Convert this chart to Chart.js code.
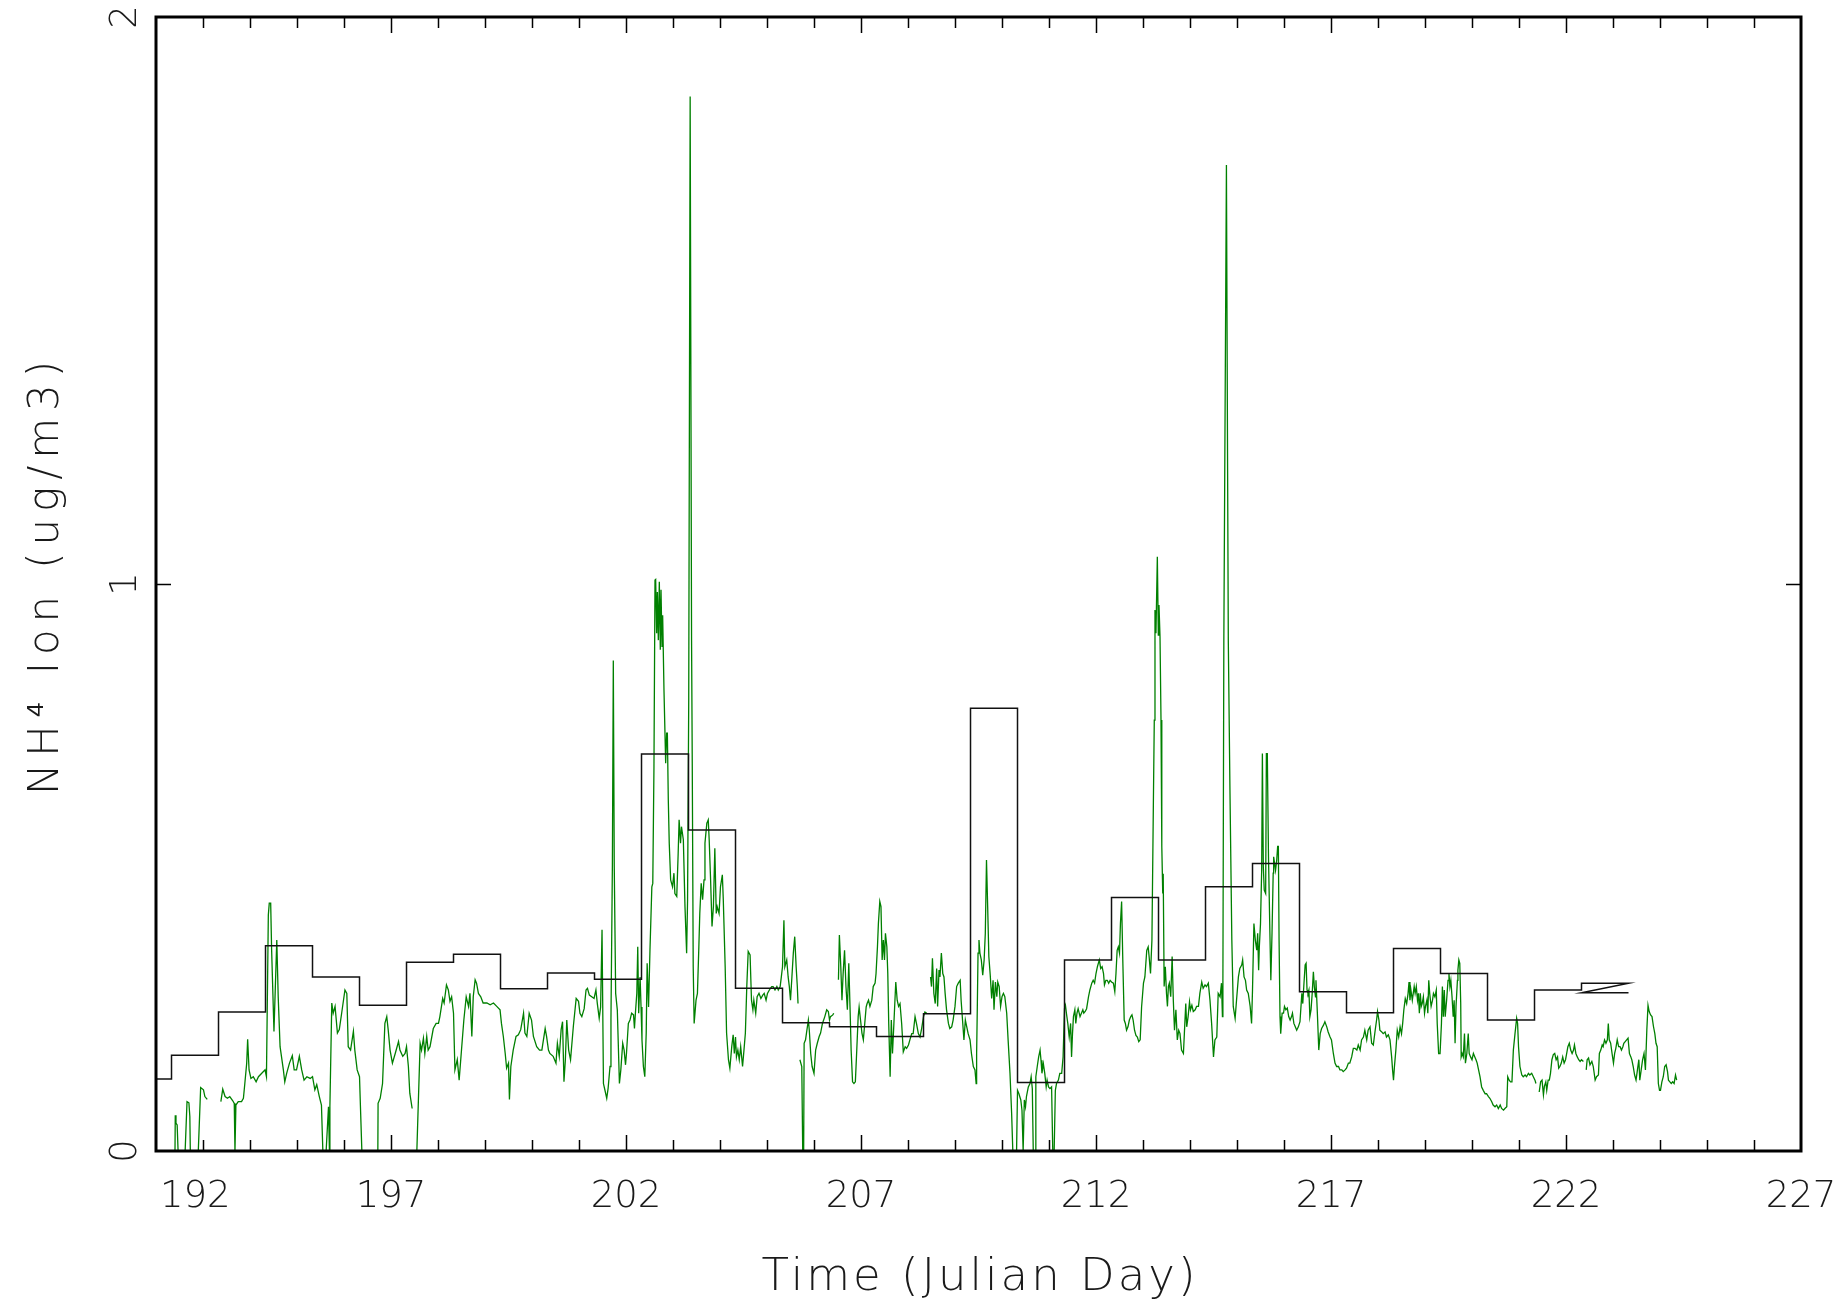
<!DOCTYPE html>
<html>
<head>
<meta charset="utf-8">
<script src="https://cdn.jsdelivr.net/npm/chart.js@4.4.0/dist/chart.umd.min.js"></script>
<style>
  html, body { margin: 0; padding: 0; background: #fff; }
  canvas { display: block; }
</style>
</head>
<body>
<canvas id="chart" width="1842" height="1299"></canvas>
<script>
// Axis labels
const xTickLabels = [192, 197, 202, 207, 212, 217, 222, 227]
const yTickLabels = [0, 1, 2]
const xTitle = 'Time (Julian Day)'
const yTitle = 'NH\u2074 Ion (ug/m3)'

// Daily filter samples (black steps): start day, end day, concentration
const stepStart = [192.00, 192.33, 193.33, 194.33, 195.33, 196.33, 197.33, 198.33, 199.33, 200.33,
  201.33, 202.33, 203.33, 204.33, 205.33, 206.33, 207.33, 208.33, 209.33, 210.33,
  211.33, 212.33, 213.33, 214.33, 215.33, 216.33, 217.33, 218.33, 219.33, 220.33,
  221.33, 222.33, 222.33]
const stepEnd = [192.33, 193.33, 194.33, 195.33, 196.33, 197.33, 198.33, 199.33, 200.33, 201.33,
  202.33, 203.33, 204.33, 205.33, 206.33, 207.33, 208.33, 209.33, 210.33, 211.33,
  212.33, 213.33, 214.33, 215.33, 216.33, 217.33, 218.33, 219.33, 220.33, 221.33,
  222.33, 223.33, 223.33]
const stepLevel = [0.127, 0.169, 0.245, 0.362, 0.307, 0.257, 0.333, 0.347, 0.286, 0.314,
  0.303, 0.700, 0.566, 0.287, 0.226, 0.219, 0.202, 0.242, 0.781, 0.121,
  0.337, 0.447, 0.337, 0.466, 0.507, 0.281, 0.244, 0.357, 0.313, 0.231,
  0.284, 0.296, 0.279]

// Continuous NH4 record (green): [day, value], null value = data gap
const nh4Series = [
  [192.404, 0], [192.41, 0.063], [192.425, 0.049], [192.45, 0.046], [192.47, 0], [192.62, 0], [192.66, 0.087], [192.70, 0.085], [192.72, 0.061], [192.73, 0], [192.90, 0], [192.95, 0.112], [193.01, 0.108], [193.04, 0.096], [193.09, 0.091], [193.2, null],
  [193.38, 0.087], [193.42, 0.109], [193.47, 0.096], [193.52, 0.093], [193.57, 0.096], [193.63, 0.089], [193.665, 0.084], [193.68, 0], [193.70, 0.081], [193.75, 0.087], [193.82, 0.087], [193.86, 0.093], [193.89, 0.119], [193.93, 0.155], [193.95, 0.197], [193.98, 0.143], [194.02, 0.128], [194.07, 0.131], [194.13, 0.122], [194.18, 0.131], [194.25, 0.137], [194.32, 0.143], [194.35, 0.131], [194.39, 0.416], [194.41, 0.437], [194.44, 0.437], [194.46, 0.355], [194.51, 0.211], [194.57, 0.372], [194.60, 0.272], [194.64, 0.184], [194.71, 0.143], [194.74, 0.122], [194.78, 0.137], [194.84, 0.155], [194.90, 0.168], [194.94, 0.143], [194.99, 0.143], [195.05, 0.167], [195.10, 0.143], [195.15, 0.125], [195.21, 0.131], [195.28, 0.128], [195.33, 0.131], [195.38, 0.108], [195.42, 0.117], [195.475, 0.096], [195.52, 0.081], [195.55, 0], [195.62, 0], [195.67, 0.078], [195.69, 0], [195.70, 0.078], [195.74, 0.261], [195.77, 0.243], [195.81, 0.255], [195.86, 0.208], [195.90, 0.214], [195.95, 0.243], [196.02, 0.284], [196.06, 0.278], [196.09, 0.184], [196.14, 0.178], [196.20, 0.211], [196.23, 0.178], [196.28, 0.143], [196.33, 0.131], [196.35, 0.078], [196.38, 0], [196.72, 0], [196.725, 0.084], [196.77, 0.093], [196.82, 0.119], [196.87, 0.225], [196.91, 0.237], [196.94, 0.214], [196.98, 0.178], [197.03, 0.155], [197.09, 0.172], [197.16, 0.193], [197.19, 0.178], [197.25, 0.167], [197.30, 0.172], [197.33, 0.184], [197.37, 0.149], [197.40, 0.102], [197.45, 0.075], [197.50, null],
  [197.55, 0], [197.62, 0.190], [197.65, 0.178], [197.69, 0.199], [197.72, 0.172], [197.76, 0.202], [197.79, 0.178], [197.83, 0.184], [197.90, 0.216], [197.96, 0.225], [198.01, 0.225], [198.04, 0.237], [198.10, 0.269], [198.13, 0.261], [198.18, 0.293], [198.22, 0.284], [198.255, 0.264], [198.29, 0.272], [198.33, 0.243], [198.36, 0.143], [198.41, 0.161], [198.45, 0.125], [198.50, 0.178], [198.55, 0.231], [198.60, 0.272], [198.65, 0.255], [198.68, 0.278], [198.72, 0.202], [198.75, 0.272], [198.79, 0.302], [198.82, 0.296], [198.86, 0.278], [198.91, 0.272], [198.96, 0.261], [199.04, 0.261], [199.11, 0.258], [199.18, 0.261], [199.25, 0.255], [199.32, 0.249], [199.35, 0.225], [199.39, 0.202], [199.43, 0.172], [199.46, 0.146], [199.50, 0.155], [199.52, 0.091], [199.55, 0.149], [199.60, 0.178], [199.66, 0.202], [199.71, 0.205], [199.76, 0.214], [199.82, 0.243], [199.85, 0.208], [199.89, 0.202], [199.94, 0.243], [199.99, 0.231], [200.03, 0.202], [200.10, 0.184], [200.16, 0.178], [200.21, 0.178], [200.28, 0.216], [200.31, 0.202], [200.35, 0.178], [200.38, 0.172], [200.45, 0.167], [200.51, 0.155], [200.54, 0.190], [200.58, 0.167], [200.62, 0.214], [200.65, 0.228], [200.68, 0.122], [200.71, 0.161], [200.74, 0.231], [200.78, 0.178], [200.82, 0.161], [200.88, 0.220], [200.94, 0.269], [200.99, 0.264],
  [201.02, 0.243], [201.06, 0.237], [201.11, 0.251], [201.15, 0.284], [201.18, 0.287], [201.22, 0.275], [201.27, 0.272], [201.32, 0.269], [201.36, 0.284], [201.39, 0.260], [201.43, 0.234], [201.46, 0.254], [201.49, 0.390], [201.52, 0.119], [201.55, 0.108], [201.59, 0.093], [201.62, 0.111], [201.66, 0.149], [201.68, 0.231], [201.71, 0.502], [201.73, 0.865], [201.75, 0.502], [201.78, 0.278], [201.815, 0.249], [201.86, 0.119], [201.89, 0.143], [201.93, 0.190], [201.96, 0.178], [201.99, 0.152], [202.01, 0.172], [202.05, 0.225], [202.085, 0.231], [202.12, 0.243], [202.16, 0.240], [202.18, 0.216], [202.20, 0.243], [202.23, 0.278], [202.25, 0.360], [202.27, 0.243], [202.30, 0.307], [202.32, 0.254], [202.34, 0.196], [202.37, 0.149], [202.40, 0.131], [202.43, 0.208], [202.45, 0.331], [202.48, 0.254], [202.51, 0.354], [202.55, 0.466], [202.57, 0.472], [202.595, 0.678], [202.617, 1.007], [202.631, 1.008], [202.652, 0.913], [202.667, 0.986], [202.688, 0.901], [202.709, 1.004], [202.730, 0.884], [202.745, 0.990], [202.766, 0.890], [202.780, 0.945], [202.808, 0.813], [202.844, 0.684], [202.865, 0.737], [202.88, 0.737], [202.90, 0.619],
  [202.92, 0.543], [202.95, 0.478], [202.99, 0.466], [203.02, 0.490], [203.04, 0.454], [203.08, 0.449], [203.11, 0.525], [203.13, 0.584], [203.16, 0.543], [203.18, 0.572], [203.22, 0.549], [203.255, 0.431], [203.29, 0.349], [203.31, 0.443], [203.335, 0.80], [203.365, 1.86], [203.395, 0.90], [203.41, 0.678], [203.43, 0.325], [203.45, 0.225], [203.49, 0.266], [203.52, 0.278], [203.55, 0.360], [203.57, 0.419], [203.60, 0.472], [203.63, 0.443], [203.66, 0.478], [203.68, 0.543], [203.72, 0.578], [203.75, 0.584], [203.77, 0.549], [203.80, 0.478], [203.83, 0.396], [203.86, 0.431], [203.89, 0.534], [203.92, 0.419], [203.94, 0.431], [203.98, 0.419], [204.01, 0.466], [204.05, 0.487], [204.07, 0.443], [204.11, 0.325], [204.14, 0.208], [204.18, 0.161], [204.21, 0.146], [204.25, 0.184], [204.28, 0.205], [204.305, 0.172], [204.33, 0.201], [204.35, 0.166], [204.38, 0.178], [204.41, 0.161], [204.44, 0.184], [204.48, 0.149], [204.51, 0.178], [204.54, 0.208], [204.57, 0.290], [204.60, 0.352], [204.64, 0.346], [204.67, 0.266], [204.70, 0.249], [204.72, 0.266], [204.76, 0.243], [204.79, 0.272], [204.83, 0.278], [204.87, 0.269], [204.91, 0.275], [204.94, 0.278], [204.98, 0.266], [205.01, 0.278], [205.05, 0.284], [205.10, 0.290], [205.13, 0.290], [205.17, 0.284], [205.21, 0.290], [205.24, 0.284], [205.28, 0.290], [205.305, 0.307], [205.33, 0.325], [205.36, 0.407], [205.38, 0.325], [205.42, 0.337], [205.45, 0.307], [205.475, 0.290], [205.50, 0.266], [205.53, 0.307], [205.56, 0.349], [205.59, 0.378], [205.62, 0.325], [205.645, 0.290], [205.66, 0.260], [205.68, null],
  [205.70, 0.161], [205.74, 0.149], [205.76, 0], [205.78, 0], [205.79, 0.190], [205.82, 0.196], [205.84, 0.208], [205.88, 0.231], [205.90, 0.213], [205.93, 0.172], [205.96, 0.149], [206.00, 0.137], [206.035, 0.178], [206.07, 0.190], [206.11, 0.202], [206.14, 0.208], [206.18, 0.225], [206.23, 0.237], [206.27, 0.249], [206.305, 0.246], [206.33, 0.231], [206.35, 0.237], [206.40, 0.240], [206.42, 0.243], [206.47, null],
  [206.52, 0.302], [206.54, 0.381], [206.57, 0.325], [206.595, 0.266], [206.62, 0.313], [206.65, 0.354], [206.68, 0.290], [206.71, 0.249], [206.74, 0.331], [206.77, 0.243], [206.79, 0.178], [206.82, 0.122], [206.85, 0.119], [206.88, 0.122], [206.91, 0.178], [206.94, 0.237], [206.96, 0.254], [206.99, 0.231], [207.02, 0.208], [207.05, 0.196], [207.08, 0.225], [207.11, 0.254], [207.13, 0.260], [207.16, 0.266],
  [207.19, 0.255], [207.23, 0.266], [207.26, 0.290], [207.30, 0.296], [207.32, 0.313], [207.35, 0.360], [207.37, 0.401], [207.40, 0.440], [207.425, 0.431], [207.45, 0.337], [207.475, 0.372], [207.50, 0.337], [207.52, 0.384], [207.55, 0.360], [207.57, 0.313], [207.59, 0.225], [207.62, 0.131], [207.645, 0.231], [207.67, 0.172], [207.70, 0.225], [207.74, 0.298], [207.77, 0.266], [207.80, 0.255], [207.83, 0.260], [207.865, 0.225], [207.90, 0.175], [207.94, 0.184], [207.97, 0.181], [208.01, 0.187], [208.04, 0.196], [208.08, 0.207], [208.11, 0.207], [208.15, 0.237], [208.18, 0.225], [208.22, 0.207], [208.255, 0.201], [208.29, 0.216], [208.33, 0.237], [208.36, 0.245], [208.40, 0.243], [208.44, null],
  [208.48, 0.307], [208.50, 0.290], [208.52, 0.340], [208.55, 0.278], [208.58, 0.260], [208.61, 0.322], [208.63, 0.255], [208.66, 0.319], [208.68, 0.307], [208.71, 0.349], [208.74, 0.313], [208.765, 0.307], [208.79, 0.278], [208.82, 0.249], [208.86, 0.225], [208.89, 0.216], [208.93, 0.219], [208.96, 0.231], [209.00, 0.255], [209.035, 0.290], [209.07, 0.296], [209.11, 0.301], [209.13, 0.266], [209.16, 0.231], [209.19, 0.196], [209.22, 0.231], [209.25, 0.219], [209.28, 0.207], [209.32, 0.196], [209.35, 0.172], [209.39, 0.149], [209.425, 0.143], [209.45, 0.119], [209.46, 0.172], [209.475, 0.255], [209.49, 0.349], [209.51, 0.372], [209.53, 0.349], [209.56, 0.337], [209.59, 0.310], [209.62, 0.337], [209.645, 0.384], [209.67, 0.513], [209.695, 0.431], [209.72, 0.343], [209.75, 0.310], [209.78, 0.269], [209.81, 0.301], [209.83, 0.249], [209.86, 0.298], [209.89, 0.272], [209.91, 0.298], [209.94, 0.290], [209.97, 0.255], [210.00, 0.272], [210.03, 0.278], [210.06, 0.272], [210.10, 0.243], [210.13, 0.196], [210.17, 0.137], [210.205, 0.066], [210.23, 0], [210.31, 0], [210.33, 0.107], [210.36, 0.101], [210.40, 0.090], [210.425, 0.072], [210.45, 0], [210.475, 0.090], [210.50, 0.078], [210.52, 0.096], [210.56, 0.113], [210.595, 0.119], [210.62, 0.131], [210.645, 0.110], [210.665, 0], [210.71, 0], [210.72, 0.131], [210.75, 0.149], [210.78, 0.166], [210.81, 0.178], [210.83, 0.160], [210.85, 0.137], [210.88, 0.154], [210.91, 0.137], [210.94, 0.113], [210.96, 0.125], [210.99, 0.113], [211.02, 0.110], [211.055, 0.113], [211.08, 0], [211.11, 0], [211.135, 0.107], [211.16, 0.119], [211.20, 0.125], [211.23, 0.137], [211.27, 0.137], [211.30, 0.166], [211.33, 0.251], [211.35, 0.257], [211.375, 0.240], [211.40, 0.225], [211.43, 0.201], [211.46, 0.225], [211.48, 0.166], [211.50, 0.207], [211.52, 0.237], [211.55, 0.249], [211.57, 0.225], [211.595, 0.243], [211.62, 0.251], [211.66, 0.237], [211.69, 0.243], [211.72, 0.249], [211.74, 0.243], [211.77, 0.246], [211.80, 0.251], [211.84, 0.272], [211.87, 0.284], [211.91, 0.296], [211.94, 0.301], [211.97, 0.296], [212.00, 0.313], [212.03, 0.325], [212.07, 0.337], [212.10, 0.322], [212.13, 0.325], [212.16, 0.313], [212.18, 0.293], [212.21, 0.301], [212.24, 0.301], [212.27, 0.296], [212.30, 0.301], [212.33, 0.298], [212.37, 0.296], [212.40, 0.281], [212.425, 0.313], [212.45, 0.354], [212.475, 0.360], [212.50, 0.349], [212.52, 0.401], [212.545, 0.440], [212.57, 0.337], [212.60, 0.231], [212.625, 0.225], [212.65, 0.213], [212.68, 0.219], [212.71, 0.231], [212.74, 0.237], [212.765, 0.240], [212.79, 0.231], [212.82, 0.213], [212.85, 0.204], [212.88, 0.201], [212.91, 0.193], [212.94, 0.196], [212.97, 0.254], [213.01, 0.296], [213.04, 0.307], [213.08, 0.354], [213.11, 0.360], [213.13, 0.343], [213.16, 0.313], [213.19, 0.372], [213.22, 0.607], [213.24, 0.760], [213.255, 0.954], [213.276, 0.913], [213.305, 1.048], [213.326, 0.910], [213.340, 0.963], [213.362, 0.907], [213.383, 0.760], [213.40, 0.537], [213.42, 0.454], [213.43, 0.489], [213.45, 0.290], [213.475, 0.325], [213.50, 0.278], [213.52, 0.255], [213.54, 0.290], [213.56, 0.296], [213.59, 0.272], [213.62, 0.343], [213.645, 0.266], [213.67, 0.213], [213.70, 0.249], [213.73, 0.196], [213.76, 0.213], [213.787, 0.207],
  [213.82, 0.178], [213.86, 0.172], [213.88, 0.207], [213.91, 0.260], [213.93, 0.219], [213.96, 0.237], [213.99, 0.263], [214.01, 0.249], [214.04, 0.257], [214.07, 0.246], [214.11, 0.249], [214.14, 0.255], [214.18, 0.255], [214.21, 0.278], [214.25, 0.298], [214.28, 0.287], [214.32, 0.293], [214.35, 0.290], [214.39, 0.296], [214.425, 0.266], [214.46, 0.225], [214.50, 0.166], [214.53, 0.196], [214.57, 0.201], [214.60, 0.278], [214.64, 0.272], [214.67, 0.296], [214.69, 0.237], [214.70, 0.30], [214.72, 0.90], [214.775, 1.739], [214.80, 1.20], [214.815, 0.90], [214.85, 0.637], [214.89, 0.372], [214.92, 0.255], [214.96, 0.234], [214.99, 0.266], [215.03, 0.307], [215.06, 0.322], [215.10, 0.328], [215.12, 0.337], [215.15, 0.307], [215.18, 0.301], [215.205, 0.284], [215.24, 0.278], [215.28, 0.255], [215.31, 0.225], [215.33, 0.284], [215.36, 0.401], [215.39, 0.372], [215.42, 0.354], [215.44, 0.384], [215.46, 0.319], [215.475, 0.360], [215.50, 0.401], [215.525, 0.495], [215.54, 0.701], [215.56, 0.501], [215.58, 0.460], [215.61, 0.454], [215.625, 0.701], [215.645, 0.701], [215.67, 0.519], [215.70, 0.384], [215.72, 0.301], [215.745, 0.384], [215.77, 0.490], [215.78, 0.519], [215.80, 0.507], [215.82, 0.495], [215.845, 0.513], [215.865, 0.537], [215.88, 0.537], [215.895, 0.372], [215.915, 0.237], [215.93, 0.207], [215.96, 0.243], [215.99, 0.243], [216.01, 0.255], [216.04, 0.249], [216.07, 0.252], [216.10, 0.237], [216.13, 0.231], [216.16, 0.237], [216.18, 0.243], [216.21, 0.225], [216.24, 0.219], [216.27, 0.213], [216.305, 0.219], [216.34, 0.228], [216.38, 0.278], [216.40, 0.260], [216.425, 0.296], [216.45, 0.328], [216.47, 0.331], [216.49, 0.284], [216.51, 0.278], [216.53, 0.284], [216.55, 0.237], [216.575, 0.249], [216.60, 0.278], [216.625, 0.316], [216.645, 0.290], [216.67, 0.272], [216.68, 0.301], [216.71, 0.243], [216.74, 0.178], [216.77, 0.207], [216.80, 0.216], [216.84, 0.222], [216.87, 0.228], [216.91, 0.219], [216.94, 0.210], [216.98, 0.201], [217.01, 0.196], [217.05, 0.172], [217.085, 0.155], [217.12, 0.149], [217.16, 0.149], [217.19, 0.143], [217.23, 0.143], [217.26, 0.140], [217.30, 0.143], [217.33, 0.146], [217.37, 0.155], [217.40, 0.155], [217.44, 0.166], [217.475, 0.181], [217.51, 0.181], [217.55, 0.178], [217.58, 0.187], [217.62, 0.178], [217.65, 0.196], [217.69, 0.201], [217.72, 0.213], [217.76, 0.196], [217.79, 0.213], [217.83, 0.219], [217.865, 0.190], [217.90, 0.187], [217.94, 0.213], [217.97, 0.231], [217.99, 0.246], [218.02, 0.231], [218.04, 0.213], [218.08, 0.210], [218.11, 0.207], [218.15, 0.210], [218.18, 0.201], [218.22, 0.205], [218.255, 0.196], [218.29, 0.166], [218.31, 0.143], [218.33, 0.125], [218.35, 0.149], [218.38, 0.178], [218.41, 0.213], [218.44, 0.201], [218.47, 0.219], [218.50, 0.207], [218.525, 0.225], [218.55, 0.249], [218.58, 0.269], [218.61, 0.260], [218.64, 0.278], [218.66, 0.298], [218.68, 0.266], [218.70, 0.284], [218.73, 0.266], [218.77, 0.290], [218.79, 0.278], [218.815, 0.290], [218.84, 0.266], [218.86, 0.278], [218.88, 0.243], [218.90, 0.278], [218.92, 0.255], [218.94, 0.260], [218.965, 0.272], [218.99, 0.243], [219.01, 0.255], [219.04, 0.266], [219.06, 0.243], [219.08, 0.301], [219.10, 0.278], [219.13, 0.255], [219.16, 0.266], [219.18, 0.278], [219.21, 0.272], [219.24, 0.284], [219.26, 0.225], [219.29, 0.172], [219.32, 0.172], [219.35, 0.225], [219.37, 0.290], [219.39, 0.237], [219.41, 0.284], [219.43, 0.237], [219.46, 0.266], [219.49, 0.301], [219.51, 0.313], [219.53, 0.290], [219.55, 0.301], [219.575, 0.272], [219.60, 0.237], [219.62, 0.266], [219.64, 0.190], [219.66, 0.255], [219.69, 0.301], [219.70, 0.319], [219.72, 0.337], [219.74, 0.331], [219.76, 0.260], [219.77, 0.166], [219.79, 0.172], [219.815, 0.166], [219.84, 0.207], [219.86, 0.155], [219.89, 0.172], [219.92, 0.207], [219.94, 0.172], [219.97, 0.166], [220.00, 0.161], [220.03, 0.172], [220.06, 0.166], [220.085, 0.161], [220.11, 0.155], [220.14, 0.143], [220.17, 0.131], [220.205, 0.113], [220.24, 0.107], [220.28, 0.101], [220.31, 0.101], [220.35, 0.096],
  [220.38, 0.093], [220.42, 0.087], [220.45, 0.081], [220.49, 0.078], [220.525, 0.081], [220.56, 0.075], [220.60, 0.081], [220.63, 0.075], [220.67, 0.072], [220.70, 0.075], [220.74, 0.078], [220.76, 0.131], [220.79, 0.125], [220.82, 0.122], [220.85, 0.122], [220.88, 0.178], [220.915, 0.207], [220.95, 0.234], [220.97, 0.225], [220.99, 0.184], [221.02, 0.149], [221.06, 0.134], [221.09, 0.131], [221.13, 0.134], [221.16, 0.131], [221.20, 0.137], [221.23, 0.134], [221.27, 0.137], [221.305, 0.131], [221.34, 0.125], [221.36, 0.119], [221.40, null],
  [221.43, 0.104], [221.46, 0.122], [221.49, 0.125], [221.52, 0.099], [221.54, 0.114], [221.57, 0.122], [221.59, 0.107], [221.62, 0.125], [221.645, 0.125], [221.67, 0.137], [221.70, 0.161], [221.73, 0.170], [221.76, 0.172], [221.79, 0.161], [221.82, 0.166], [221.845, 0.146], [221.87, 0.149], [221.90, 0.155], [221.93, 0.166], [221.96, 0.155], [221.99, 0.161], [222.01, 0.170], [222.04, 0.184], [222.07, 0.190], [222.10, 0.178], [222.13, 0.172], [222.16, 0.178], [222.18, 0.187], [222.21, 0.172], [222.24, 0.166], [222.27, 0.161], [222.30, 0.158], [222.33, 0.161], [222.37, 0.158], [222.40, null],
  [222.43, 0.143], [222.45, 0.161], [222.48, 0.164], [222.51, 0.152], [222.55, 0.158], [222.58, 0.149], [222.62, 0.125], [222.65, 0.131], [222.69, 0.134], [222.71, 0.172], [222.74, 0.178], [222.77, 0.187], [222.79, 0.184], [222.82, 0.196], [222.85, 0.190], [222.88, 0.196], [222.90, 0.225], [222.92, 0.196], [222.95, 0.190], [222.98, 0.172], [223.01, 0.155], [223.035, 0.172], [223.06, 0.181], [223.09, 0.196], [223.12, 0.184], [223.15, 0.184], [223.18, 0.178], [223.21, 0.184], [223.23, 0.190], [223.26, 0.193], [223.29, 0.196], [223.32, 0.199], [223.35, 0.172], [223.38, 0.166], [223.40, 0.161], [223.43, 0.149], [223.46, 0.134], [223.49, 0.125], [223.52, 0.143], [223.55, 0.161], [223.57, 0.125], [223.60, 0.143], [223.63, 0.161], [223.66, 0.172], [223.69, 0.143], [223.72, 0.214], [223.745, 0.257], [223.77, 0.246], [223.80, 0.240], [223.83, 0.237], [223.86, 0.220], [223.89, 0.207], [223.915, 0.190], [223.94, 0.184], [223.965, 0.119], [223.99, 0.107], [224.01, 0.107], [224.04, 0.122], [224.07, 0.131], [224.10, 0.149], [224.13, 0.152], [224.16, 0.140], [224.18, 0.125], [224.21, 0.122], [224.24, 0.119], [224.27, 0.122], [224.30, 0.119], [224.33, 0.134], [224.355, 0.125]
]

const FONT = '"DejaVu Sans", "Liberation Sans", sans-serif'
const TEXT_COLOR = '#1a1a1a'

// Draw text so that it spans a given width (stroke font in the original is wide)
function fitText (ctx, text, x, y, width) {
  ctx.letterSpacing = '0px'
  const w = ctx.measureText(text).width
  const spacing = Math.max(0, (width - w) / text.length)
  ctx.letterSpacing = `${spacing}px`
  ctx.fillText(text, x + spacing / 2, y)
  ctx.letterSpacing = '0px'
}

// Frame, inward tick marks and all labels
const framePlugin = {
  id: 'frame',
  afterDatasetsDraw (chart) {
    const { ctx, chartArea: a, scales: { x, y } } = chart
    ctx.save()

    ctx.strokeStyle = '#000'
    ctx.lineWidth = 1.5
    ctx.beginPath()
    for (let d = 193; d < 227; d++) {
      const px = Math.round(x.getPixelForValue(d)) + 0.5
      const len = (d - 192) % 5 === 0 ? 16 : 11
      ctx.moveTo(px, a.bottom)
      ctx.lineTo(px, a.bottom - len)
      ctx.moveTo(px, a.top)
      ctx.lineTo(px, a.top + len)
    }
    const py = Math.round(y.getPixelForValue(1)) + 0.5
    ctx.moveTo(a.left, py)
    ctx.lineTo(a.left + 15, py)
    ctx.moveTo(a.right, py)
    ctx.lineTo(a.right - 15, py)
    ctx.stroke()

    ctx.lineWidth = 3
    ctx.strokeRect(a.left, a.top, a.right - a.left, a.bottom - a.top)

    ctx.fillStyle = TEXT_COLOR
    ctx.font = `200 37px ${FONT}`
    ctx.textBaseline = 'alphabetic'
    xTickLabels.forEach((v, i) => {
      const px = x.getPixelForValue(v)
      if (i === 0) {
        ctx.textAlign = 'left'
        ctx.fillText(String(v), px + 4, a.bottom + 56)
      } else {
        ctx.textAlign = 'center'
        ctx.fillText(String(v), px, a.bottom + 56)
      }
    })
    yTickLabels.forEach(v => {
      ctx.save()
      ctx.translate(a.left - 20, y.getPixelForValue(v))
      ctx.rotate(-Math.PI / 2)
      ctx.textAlign = 'center'
      ctx.fillText(String(v), 0, 0)
      ctx.restore()
    })

    ctx.font = `200 45px ${FONT}`
    ctx.textAlign = 'center'
    fitText(ctx, xTitle, (a.left + a.right) / 2, a.bottom + 139, 437)

    ctx.save()
    ctx.translate(58, 578)
    ctx.rotate(-Math.PI / 2)
    ctx.font = `200 42px ${FONT}`
    fitText(ctx, yTitle, 0, 0, 441)
    ctx.restore()

    ctx.restore()
  }
}

const filterPoints = stepStart.flatMap((s, i) => [
  { x: s, y: stepLevel[i] },
  { x: stepEnd[i], y: stepLevel[i] }
])

new Chart(document.getElementById('chart').getContext('2d'), {
  type: 'line',
  data: {
    datasets: [
      {
        label: 'Filter NH4',
        data: filterPoints,
        borderColor: '#111',
        borderWidth: 1.5,
        pointRadius: 0,
        tension: 0
      },
      {
        label: 'NH4',
        data: nh4Series.map(p => ({ x: p[0], y: p[1] })),
        borderColor: '#008000',
        borderWidth: 1.3,
        pointRadius: 0,
        tension: 0,
        spanGaps: false
      }
    ]
  },
  options: {
    responsive: false,
    animation: false,
    devicePixelRatio: 1,
    layout: { padding: { left: 156, right: 41, top: 17, bottom: 148 } },
    plugins: {
      legend: { display: false },
      tooltip: { enabled: false }
    },
    scales: {
      x: { type: 'linear', min: 192, max: 227, display: false },
      y: { min: 0, max: 2, display: false }
    }
  },
  plugins: [framePlugin]
})
</script>
</body>
</html>
